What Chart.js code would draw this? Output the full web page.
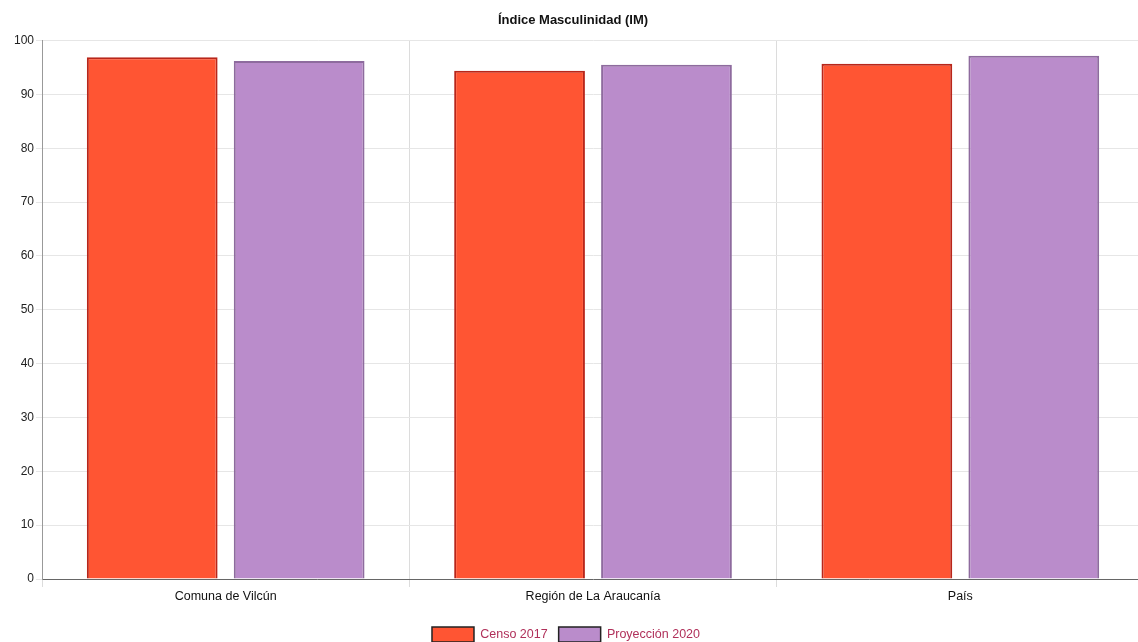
<!DOCTYPE html>
<html>
<head>
<meta charset="utf-8">
<script src="https://cdn.jsdelivr.net/npm/chart.js@4"></script>
<style>
	html, body { margin: 0; padding: 0; background: #fff; overflow: hidden; }
	#wrap { width: 1144px; height: 642px; }
</style>
</head>
<body>
<div id="wrap"><canvas id="imChart"></canvas></div>
<script>
// Data
var categories = ['Comuna de Vilcún', 'Región de La Araucanía', 'País'];
var censo2017 = [96.9, 94.4, 95.7];
var proyeccion2020 = [96.2, 95.5, 97.2];
var yTicks = [0, 10, 20, 30, 40, 50, 60, 70, 80, 90, 100];

// Colors
var colors = {
	red: '#FF5533',
	redBorder: '#B8261A',
	purple: '#BA8CCB',
	purpleBorder: '#8E6B9E',
	legendText: '#B0305A'
};

Chart.defaults.font.family = '"Liberation Sans", Arial, sans-serif';
Chart.defaults.font.size = 12;
Chart.defaults.color = '#222';

// push the legend down to the bottom edge and nudge title/legend left, like the original
var boxShift = {
	id: 'boxShift',
	afterLayout: function(chart) {
		var lg = chart.legend;
		if (lg) {
			lg.top += 10;
			lg.bottom += 10;
			lg.left -= 12;
			lg.right -= 12;
		}
		var tt = chart.titleBlock;
		if (tt) {
			tt.left -= 5;
			tt.right -= 5;
		}
	}
};

var ctx = document.getElementById('imChart').getContext('2d');
var imChart = new Chart(ctx, {
	type: 'bar',
	data: {
		labels: categories,
		datasets: [
			{
				label: 'Censo 2017',
				data: censo2017,
				backgroundColor: colors.red,
				borderColor: colors.redBorder,
				borderWidth: 2,
				categoryPercentage: 0.8,
				barPercentage: 0.89
			},
			{
				label: 'Proyección 2020',
				data: proyeccion2020,
				backgroundColor: colors.purple,
				borderColor: colors.purpleBorder,
				borderWidth: 2,
				categoryPercentage: 0.8,
				barPercentage: 0.89
			}
		]
	},
	options: {
		responsive: true,
		maintainAspectRatio: false,
		animation: false,
		layout: { padding: { left: 12, right: 0, top: 4, bottom: 0 } },
		plugins: {
			title: {
				display: true,
				text: 'Índice Masculinidad (IM)',
				color: '#111',
				font: { size: 13, weight: 'bold' },
				padding: { top: 9, bottom: 12 }
			},
			legend: {
				position: 'bottom',
				labels: {
					boxWidth: 42,
					boxHeight: 15,
					padding: 11,
					color: colors.legendText,
					font: { size: 12.5 },
					generateLabels: function(chart) {
						var items = Chart.defaults.plugins.legend.labels.generateLabels(chart);
						items.forEach(function(it) {
							it.strokeStyle = '#222';
							it.lineWidth = 1.5;
						});
						return items;
					}
				}
			},
			tooltip: { enabled: false }
		},
		scales: {
			x: {
				grid: { color: '#dcdcdc', offset: true, tickLength: 8 },
				border: { color: '#666' },
				ticks: { color: '#111', padding: 2, font: { size: 12.5 } }
			},
			y: {
				min: 0,
				max: 100,
				afterBuildTicks: function(axis) {
					axis.ticks = yTicks.map(function(v) { return { value: v }; });
				},
				grid: { color: '#e6e6e6', tickLength: 6 },
				border: { color: '#999' },
				ticks: { color: '#222', padding: 2 }
			}
		}
	},
	plugins: [boxShift]
});
</script>
</body>
</html>
